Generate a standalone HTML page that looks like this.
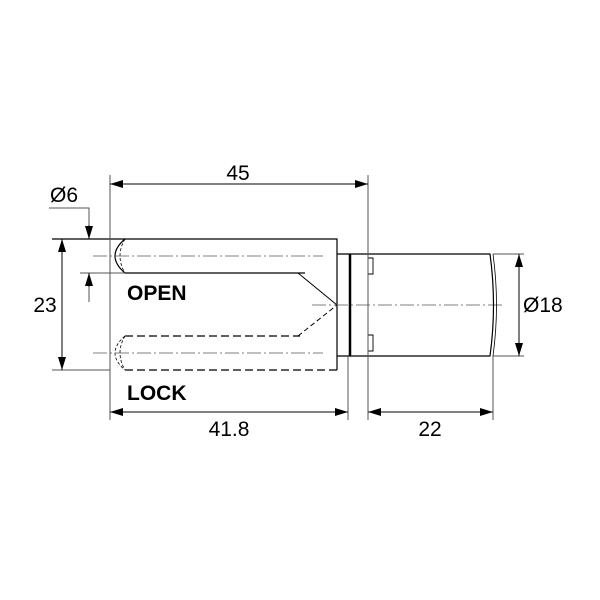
<!DOCTYPE html>
<html><head><style>body{margin:0;background:#fff}svg{display:block}</style></head><body>
<svg width="600" height="600" viewBox="0 0 600 600" xmlns="http://www.w3.org/2000/svg" font-family="Liberation Sans, Arial, sans-serif">
<defs>
<marker id="a" viewBox="0 0 13 8" refX="13" refY="4" markerWidth="13" markerHeight="8" orient="auto-start-reverse" markerUnits="userSpaceOnUse"><path d="M0,0L13,4L0,8z" fill="#000"/></marker>
</defs>
<g fill="none" stroke="#000" stroke-width="1.2">
<path d="M52,239H337V370"/>
<path d="M125,370H337" stroke-dasharray="8,4"/>
<path d="M125,273H305"/>
<path d="M125,239Q105,256 125,273"/>
<path d="M125,239Q115,256 125,273" stroke-dasharray="3,2" stroke-width="0.8"/>
<path d="M125,336H300" stroke-dasharray="8,4"/>
<path d="M125,336Q105,353 125,370M125,336Q115,353 125,370" stroke-dasharray="3,2" stroke-width="0.8"/>
<path d="M298,273L337,305" stroke-width="1"/>
<path d="M298,336L337,305" stroke-dasharray="5,3" stroke-width="1"/>
<g stroke="#555" stroke-width="0.8" stroke-dasharray="14,3,2,3">
<path d="M93,256H323M93,353H323M312,305H505"/>
</g>
<path d="M337,254H350V356H337"/>
<path d="M350,254V356" stroke-width="2.5"/>
<path d="M350,254H490Q497,305 490,356H350"/>
<path d="M493,254Q500,305 493,356" stroke-width="0.8"/>
<path d="M368,258h5v16h-5zM368,335h5v16h-5z" stroke-width="0.9"/>
<g stroke="#555" stroke-width="1">
<path d="M110,175V420M368,175V420M348,356V420M493,356V420M493,254H524M493,356H524M52,370H110"/>
<path d="M49,208H89V239M89,273V302M80,273H125"/>
</g>
<g stroke-width="1">
<path d="M110,184H368" marker-start="url(#a)" marker-end="url(#a)"/>
<path d="M110,412H348" marker-start="url(#a)" marker-end="url(#a)"/>
<path d="M368,412H493" marker-start="url(#a)" marker-end="url(#a)"/>
<path d="M519,254V356" marker-start="url(#a)" marker-end="url(#a)"/>
<path d="M62,239V370" marker-start="url(#a)" marker-end="url(#a)"/>
<path d="M89,225V239" marker-end="url(#a)"/>
<path d="M89,287V273" marker-end="url(#a)"/>
</g>
</g>
<g font-size="21" fill="#000">
<text x="238" y="180" text-anchor="middle">45</text>
<text x="50" y="202">Ø6</text>
<text x="45" y="312" text-anchor="middle">23</text>
<text x="523" y="312">Ø18</text>
<text x="229" y="436" text-anchor="middle">41.8</text>
<text x="430" y="436" text-anchor="middle">22</text>
<text x="127" y="300" font-weight="bold" font-size="21">OPEN</text>
<text x="127" y="400" font-weight="bold" font-size="21">LOCK</text>
</g>
</svg>
</body></html>
